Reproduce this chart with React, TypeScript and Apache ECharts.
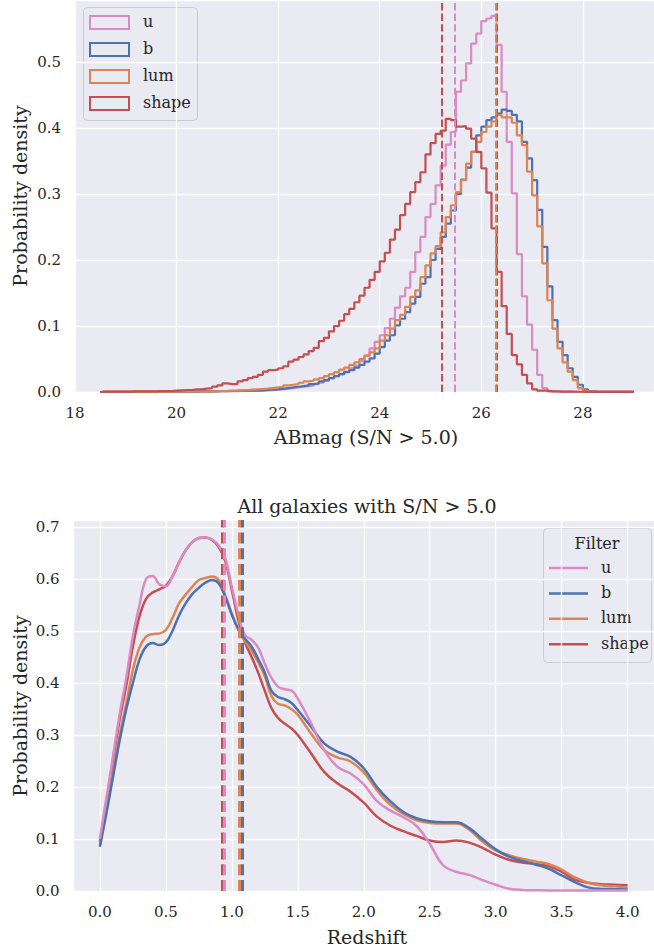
import React, { useEffect, useRef } from "react";
import * as echarts from "echarts";

// Filters shown in both panels, in legend order
const FILTERS = ["u", "b", "lum", "shape"];
const FILTER_COLORS: Record<string, string> = {
  u: "#DA8BC3",
  b: "#4C72B0",
  lum: "#DD8452",
  shape: "#C44E52",
};

// ---- Top panel: ABmag histograms (density), bins of 0.1 mag starting at 18.5 ----
const MAG_BIN_START = 18.5;
const MAG_BIN_WIDTH = 0.1;

const magDensityU = [
  0.0003, 0.0003, 0.0003, 0.0003, 0.0003, 0.0003, 0.0003, 0.0003, 0.0003, 0.0003,
  0.0004, 0.0004, 0.0005, 0.0005, 0.0006, 0.0006, 0.0007, 0.0008, 0.0009, 0.001,
  0.001, 0.001, 0.0011, 0.0012, 0.0012, 0.0013, 0.0014, 0.0015, 0.0017, 0.002,
  0.002, 0.002, 0.0025, 0.003, 0.0035, 0.004, 0.005, 0.006, 0.007, 0.008,
  0.009, 0.01, 0.012, 0.014, 0.017, 0.021, 0.024, 0.027, 0.031, 0.036,
  0.04, 0.047, 0.055, 0.066, 0.076, 0.086, 0.097, 0.111, 0.128, 0.145,
  0.158, 0.182, 0.212, 0.235, 0.265, 0.285, 0.313, 0.343, 0.375, 0.394,
  0.455, 0.472, 0.498, 0.528, 0.543, 0.562, 0.566, 0.57, 0.526, 0.455,
  0.379, 0.301, 0.209, 0.145, 0.102, 0.064, 0.026, 0.006, 0.001, 0.0008,
  0.0006, 0.0005, 0.0004, 0.0004, 0.0003, 0.0003, 0.0003, 0.0002, 0.0002, 0.0002,
  0.0002, 0.0002, 0.0002, 0.0002, 0.0002,
];

const magDensityB = [
  0.0002, 0.0002, 0.0002, 0.0002, 0.0002, 0.0002, 0.0002, 0.0002, 0.0002, 0.0002,
  0.0003, 0.0003, 0.0003, 0.0004, 0.0004, 0.0005, 0.0005, 0.0006, 0.0007, 0.0008,
  0.0009, 0.001, 0.001, 0.0012, 0.0013, 0.0015, 0.0017, 0.002, 0.002, 0.002,
  0.002, 0.0025, 0.003, 0.0035, 0.004, 0.005, 0.006, 0.007, 0.008, 0.009,
  0.01, 0.012, 0.013, 0.016, 0.018, 0.021, 0.024, 0.027, 0.03, 0.033,
  0.037, 0.041, 0.046, 0.051, 0.058, 0.068, 0.078, 0.086, 0.101, 0.111,
  0.121, 0.134, 0.144, 0.164, 0.174, 0.2, 0.217, 0.235, 0.255, 0.275,
  0.3, 0.322, 0.34, 0.364, 0.389, 0.402, 0.412, 0.416, 0.422, 0.428,
  0.426, 0.42, 0.41, 0.379, 0.354, 0.321, 0.276, 0.22, 0.16, 0.109,
  0.076, 0.056, 0.036, 0.023, 0.011, 0.004, 0.001, 0.0005, 0.0003, 0.0003,
  0.0002, 0.0002, 0.0002, 0.0002, 0.0002,
];

const magDensityLum = [
  0.0002, 0.0002, 0.0002, 0.0002, 0.0002, 0.0002, 0.0002, 0.0002, 0.0002, 0.0002,
  0.0003, 0.0003, 0.0004, 0.0004, 0.0005, 0.0005, 0.0006, 0.0007, 0.0008, 0.0009,
  0.001, 0.001, 0.0012, 0.0015, 0.0017, 0.002, 0.002, 0.0025, 0.003, 0.0035,
  0.004, 0.0045, 0.005, 0.006, 0.007, 0.008, 0.01, 0.011, 0.012, 0.014,
  0.016, 0.017, 0.019, 0.021, 0.024, 0.027, 0.03, 0.034, 0.037, 0.041,
  0.045, 0.05, 0.055, 0.06, 0.066, 0.078, 0.086, 0.096, 0.109, 0.117,
  0.129, 0.144, 0.154, 0.174, 0.192, 0.21, 0.221, 0.242, 0.265, 0.283,
  0.303, 0.321, 0.346, 0.364, 0.379, 0.394, 0.402, 0.41, 0.42, 0.416,
  0.416, 0.408, 0.389, 0.374, 0.334, 0.298, 0.251, 0.195, 0.139, 0.096,
  0.066, 0.045, 0.031, 0.018, 0.006, 0.002, 0.0005, 0.0003, 0.0003, 0.0003,
  0.0002, 0.0002, 0.0002, 0.0002, 0.0002,
];

const magDensityShape = [
  0.0005, 0.0005, 0.0006, 0.0006, 0.0007, 0.0007, 0.0008, 0.0008, 0.0009, 0.001,
  0.001, 0.0015, 0.0015, 0.0015, 0.002, 0.0025, 0.003, 0.003, 0.004, 0.004,
  0.005, 0.006, 0.008, 0.01, 0.013, 0.012, 0.012, 0.016, 0.018, 0.021,
  0.023, 0.026, 0.031, 0.033, 0.034, 0.036, 0.039, 0.046, 0.049, 0.053,
  0.057, 0.062, 0.067, 0.077, 0.082, 0.092, 0.1, 0.108, 0.118, 0.126,
  0.136, 0.146, 0.158, 0.17, 0.182, 0.198, 0.211, 0.231, 0.246, 0.268,
  0.285, 0.303, 0.318, 0.333, 0.36, 0.377, 0.391, 0.396, 0.414, 0.412,
  0.402, 0.403, 0.399, 0.384, 0.364, 0.339, 0.302, 0.248, 0.182, 0.13,
  0.088, 0.056, 0.042, 0.026, 0.013, 0.004, 0.002, 0.002, 0.001, 0.0008,
  0.0006, 0.0005, 0.0005, 0.0004, 0.0004, 0.0003, 0.0003, 0.0003, 0.0003, 0.0002,
  0.0002, 0.0002, 0.0002, 0.0002, 0.0002,
];

// Median magnitude per filter (dashed markers)
const magMedians: Record<string, number> = { u: 25.48, b: 26.31, lum: 26.29, shape: 25.22 };

// ---- Bottom panel: redshift density estimates ----
const redshiftGrid = [
  0, 0.05, 0.1, 0.15, 0.2, 0.25, 0.3, 0.35, 0.4, 0.45, 0.5, 0.55, 0.6, 0.65, 0.7, 0.75,
  0.8, 0.85, 0.9, 0.95, 1.0, 1.05, 1.1, 1.15, 1.2, 1.25, 1.3, 1.35, 1.4, 1.45, 1.5,
  1.6, 1.7, 1.8, 1.9, 2.0, 2.1, 2.2, 2.3, 2.4, 2.5, 2.6, 2.7, 2.8, 2.9, 3.0, 3.1, 3.2,
  3.3, 3.4, 3.5, 3.6, 3.7, 3.8, 3.9, 4.0,
];

const zDensityU = [
  0.1, 0.18, 0.26, 0.34, 0.41, 0.49, 0.55, 0.6, 0.606, 0.59, 0.586, 0.605, 0.633, 0.655, 0.671, 0.679,
  0.68, 0.676, 0.665, 0.64, 0.585, 0.53, 0.492, 0.483, 0.468, 0.437, 0.41, 0.393, 0.388, 0.386, 0.37,
  0.323, 0.271, 0.239, 0.226, 0.205, 0.173, 0.155, 0.142, 0.125, 0.091, 0.05, 0.037, 0.031, 0.021, 0.012, 0.0045, 0.002,
  0.0015, 0.001, 0.001, 0.001, 0.001, 0.001, 0.001, 0.001,
];

const zDensityB = [
  0.085, 0.15, 0.22, 0.29, 0.35, 0.4, 0.445, 0.47, 0.477, 0.473, 0.478, 0.5, 0.53, 0.553, 0.571, 0.583,
  0.593, 0.598, 0.592, 0.566, 0.531, 0.503, 0.485, 0.47, 0.446, 0.42, 0.385, 0.373, 0.369, 0.362, 0.348,
  0.316, 0.284, 0.268, 0.258, 0.236, 0.2, 0.173, 0.152, 0.14, 0.134, 0.132, 0.132, 0.121, 0.1, 0.08, 0.066, 0.058,
  0.051, 0.043, 0.03, 0.017, 0.007, 0.004, 0.0035, 0.003,
];

const zDensityLum = [
  0.087, 0.16, 0.23, 0.3, 0.36, 0.425, 0.468, 0.489, 0.494, 0.495, 0.502, 0.525, 0.553, 0.57, 0.585, 0.598,
  0.602, 0.605, 0.598, 0.569, 0.534, 0.502, 0.48, 0.462, 0.44, 0.413, 0.375, 0.36, 0.357, 0.35, 0.339,
  0.303, 0.271, 0.257, 0.249, 0.228, 0.194, 0.166, 0.148, 0.136, 0.131, 0.13, 0.13, 0.118, 0.095, 0.078, 0.069, 0.062,
  0.057, 0.052, 0.041, 0.026, 0.016, 0.011, 0.009, 0.0065,
];

const zDensityShape = [
  0.095, 0.17, 0.25, 0.33, 0.395, 0.47, 0.528, 0.562, 0.574, 0.58, 0.587, 0.605, 0.632, 0.655, 0.671, 0.679,
  0.68, 0.675, 0.662, 0.635, 0.579, 0.52, 0.478, 0.45, 0.42, 0.385, 0.352, 0.333, 0.322, 0.313, 0.3,
  0.265, 0.229, 0.207, 0.191, 0.17, 0.143, 0.126, 0.115, 0.106, 0.097, 0.094, 0.097, 0.093, 0.083, 0.07, 0.06, 0.055,
  0.052, 0.048, 0.037, 0.022, 0.016, 0.013, 0.012, 0.011,
];

// Median redshift per filter (dashed markers)
const zMedians: Record<string, number> = { u: 0.945, b: 1.085, lum: 1.065, shape: 0.93 };

const magByFilter: Record<string, number[]> = {
  u: magDensityU,
  b: magDensityB,
  lum: magDensityLum,
  shape: magDensityShape,
};
const zByFilter: Record<string, number[]> = {
  u: zDensityU,
  b: zDensityB,
  lum: zDensityLum,
  shape: zDensityShape,
};

const TEXT = "#262626";
const FONT = "DejaVu Serif";
const PANEL_BG = "#EAEAF2";

// Outline of a step histogram: left edge of every bin, closed to zero at both ends
function histOutline(values: number[]): [number, number][] {
  const pts: [number, number][] = [[MAG_BIN_START, 0]];
  values.forEach((v, k) => {
    pts.push([+(MAG_BIN_START + k * MAG_BIN_WIDTH).toFixed(2), v]);
  });
  const end = +(MAG_BIN_START + values.length * MAG_BIN_WIDTH).toFixed(2);
  pts.push([end, values[values.length - 1]], [end, 0]);
  return pts;
}

function axisCommon() {
  return {
    axisLine: { show: false },
    axisTick: { show: false },
    splitLine: { show: true, lineStyle: { color: "#FFFFFF", width: 1.3 } },
  };
}

const labelStyle = { color: TEXT, fontFamily: FONT, fontSize: 15 };

function buildOption(): echarts.EChartsCoreOption {
  const histSeries = FILTERS.map((f) => ({
    name: f,
    type: "line",
    xAxisIndex: 0,
    yAxisIndex: 0,
    step: "end",
    showSymbol: false,
    silent: true,
    data: histOutline(magByFilter[f]),
    lineStyle: { color: FILTER_COLORS[f], width: 2.2 },
    itemStyle: { color: FILTER_COLORS[f] },
    markLine: {
      silent: true,
      symbol: "none",
      label: { show: false },
      lineStyle: { color: FILTER_COLORS[f], width: 2, type: [7.4, 3.2] },
      data: [{ xAxis: magMedians[f] }],
    },
  }));

  // density curves: first filter drawn last so it sits on top
  const kdeSeries = [...FILTERS].reverse().map((f) => ({
    name: f + " z",
    type: "line",
    xAxisIndex: 1,
    yAxisIndex: 1,
    smooth: 0.4,
    showSymbol: false,
    silent: true,
    data: redshiftGrid.map((z, i) => [z, zByFilter[f][i]]),
    lineStyle: { color: FILTER_COLORS[f], width: 2.5 },
    itemStyle: { color: FILTER_COLORS[f] },
    markLine: {
      silent: true,
      symbol: "none",
      label: { show: false },
      lineStyle: { color: FILTER_COLORS[f], width: 3, type: [11, 4.8] },
      data: [{ xAxis: zMedians[f] }],
    },
  }));

  const textEl = (text: string, x: number, y: number, size: number, extra: any = {}) => ({
    type: "text",
    x,
    y,
    z: 100,
    silent: true,
    ...extra,
    style: {
      text,
      fill: TEXT,
      fontFamily: FONT,
      fontSize: size,
      align: "center",
      verticalAlign: "middle",
    },
  });

  const topLegend = {
    type: "group",
    z: 100,
    children: [
      {
        type: "rect",
        shape: { x: 83.5, y: 7.5, width: 114, height: 113, r: 4 },
        style: { fill: "rgba(234,234,242,0.8)", stroke: "#CCCCCC", lineWidth: 1 },
      },
      ...FILTERS.map((f, i) => ({
        type: "rect",
        shape: { x: 90, y: 16 + i * 27, width: 39, height: 13 },
        style: { fill: "none", stroke: FILTER_COLORS[f], lineWidth: 2 },
      })),
      ...FILTERS.map((f, i) => ({
        type: "text",
        x: 143,
        y: 21.5 + i * 27,
        style: { text: f, fill: TEXT, fontFamily: FONT, fontSize: 16, align: "left", verticalAlign: "middle" },
      })),
    ],
  };

  const bottomLegend = {
    type: "group",
    z: 100,
    children: [
      {
        type: "rect",
        shape: { x: 543.5, y: 528.5, width: 108, height: 134, r: 4 },
        style: { fill: "rgba(234,234,242,0.8)", stroke: "#CCCCCC", lineWidth: 1 },
      },
      {
        type: "text",
        x: 597,
        y: 543,
        style: { text: "Filter", fill: TEXT, fontFamily: FONT, fontSize: 16, align: "center", verticalAlign: "middle" },
      },
      ...FILTERS.map((f, i) => ({
        type: "line",
        shape: { x1: 549, y1: 568 + i * 25.4, x2: 588, y2: 568 + i * 25.4 },
        style: { stroke: FILTER_COLORS[f], lineWidth: 2.5 },
      })),
      ...FILTERS.map((f, i) => ({
        type: "text",
        x: 601,
        y: 567 + i * 25.4,
        style: { text: f, fill: TEXT, fontFamily: FONT, fontSize: 16, align: "left", verticalAlign: "middle" },
      })),
    ],
  };

  return {
    animation: false,
    backgroundColor: "#FFFFFF",
    grid: [
      { left: 75, top: 0, right: 0, height: 392, show: true, backgroundColor: PANEL_BG, borderWidth: 0 },
      { left: 73.5, top: 520, width: 588, height: 371, show: true, backgroundColor: PANEL_BG, borderWidth: 0 },
    ],
    xAxis: [
      {
        gridIndex: 0,
        type: "value",
        min: 18,
        max: 29.4,
        interval: 2,
        ...axisCommon(),
        axisLabel: {
          ...labelStyle,
          margin: 13,
          showMaxLabel: false,
          formatter: (v: number) => String(Math.round(v)),
        },
      },
      {
        gridIndex: 1,
        type: "value",
        min: -0.2,
        max: 4.2,
        splitNumber: 9,
        ...axisCommon(),
        axisLabel: {
          ...labelStyle,
          margin: 13,
          showMinLabel: false,
          showMaxLabel: false,
          formatter: (v: number) => v.toFixed(1),
        },
      },
    ],
    yAxis: [
      {
        gridIndex: 0,
        type: "value",
        min: 0,
        max: 0.594,
        interval: 0.1,
        ...axisCommon(),
        axisLabel: { ...labelStyle, margin: 14, showMaxLabel: false, formatter: (v: number) => v.toFixed(1) },
      },
      {
        gridIndex: 1,
        type: "value",
        min: 0,
        max: 0.7135,
        interval: 0.1,
        ...axisCommon(),
        axisLabel: { ...labelStyle, margin: 14, showMaxLabel: false, formatter: (v: number) => v.toFixed(1) },
      },
    ],
    series: [...histSeries, ...kdeSeries],
    graphic: [
      textEl("Probability density", 20, 196, 19, { rotation: Math.PI / 2 }),
      textEl("ABmag (S/N > 5.0)", 366, 437, 19),
      textEl("All galaxies with S/N > 5.0", 367, 506, 19),
      textEl("Probability density", 20, 706, 19, { rotation: Math.PI / 2 }),
      textEl("Redshift", 367, 937, 19),
      topLegend,
      bottomLegend,
    ],
  };
}

export default function App() {
  const ref = useRef<HTMLDivElement>(null);
  useEffect(() => {
    if (!ref.current) return;
    const chart = echarts.init(ref.current, null, { renderer: "svg" });
    chart.setOption(buildOption());
    return () => chart.dispose();
  }, []);
  return (
    <div
      ref={ref}
      style={{ position: "absolute", left: 0, top: 0, width: 654, height: 951, background: "#FFFFFF" }}
    />
  );
}
